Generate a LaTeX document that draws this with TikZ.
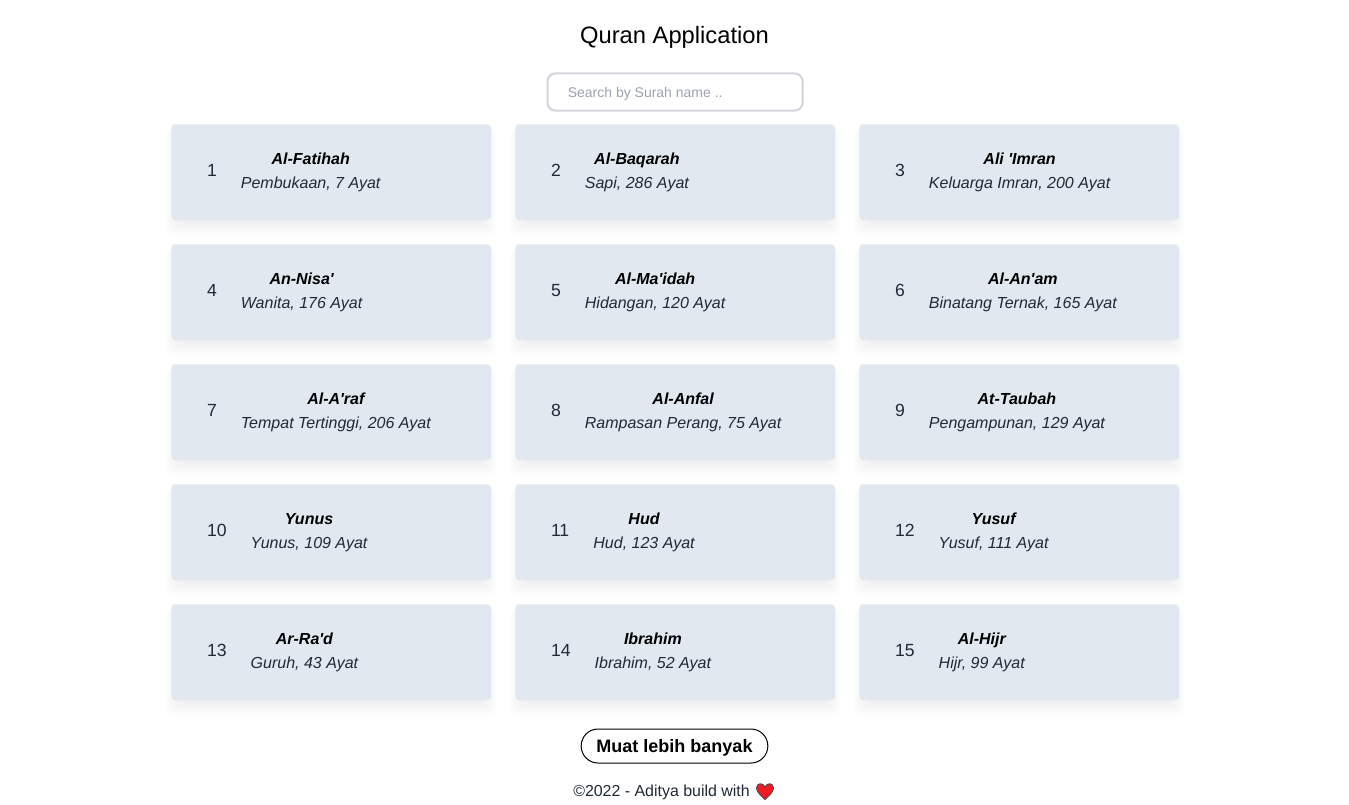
\documentclass[tikz,border=0pt]{standalone}
\usepackage{fontspec}
\usepackage{tikz}
\usetikzlibrary{positioning}
\newfontfamily\appfont{Liberation Sans}
\definecolor{cardfill}{HTML}{E2E8F0}
\definecolor{inkgray}{HTML}{1F2937}
\definecolor{searchline}{HTML}{D1D5DB}
\definecolor{hintgray}{HTML}{9CA3AF}
\definecolor{heartred}{HTML}{EE1C25}
\tikzset{
  cardbox/.style={fill=cardfill, rounded corners=3pt, minimum width=240pt, minimum height=72pt, inner sep=0pt, anchor=north west},
  numlabel/.style={inner sep=0pt, anchor=west, text=inkgray, font=\appfont\fontsize{13.2}{18}\selectfont},
  surahlabel/.style={inner sep=0pt, align=center, text=inkgray, font=\appfont\fontsize{12}{18}\selectfont},
}
\begin{document}
\begin{tikzpicture}[x=0.75pt, y=-0.75pt]
  \useasboundingbox (0,0) rectangle (1349,804);
  \node (title) at (674.5,37) {\appfont\fontsize{17.8}{24}\selectfont Quran Application};
  \node[draw=searchline, line width=1.5pt, rounded corners=6pt, minimum width=191.25pt, minimum height=28pt, inner sep=0pt] (search) at (675,92) {};
  \node[anchor=west, inner sep=0pt, text=hintgray, font=\appfont\fontsize{10.5}{14}\selectfont] (hint) at (567.5,93.5) {Search by Surah name ..};
  \foreach \n/\name/\sub [evaluate=\n as \cx using {171+344*mod(\n-1,3)}, evaluate=\n as \cy using {124+120*int((\n-1)/3)}] in {
    1/Al-Fatihah/{Pembukaan, 7 Ayat}, 2/Al-Baqarah/{Sapi, 286 Ayat}, 3/Ali 'Imran/{Keluarga Imran, 200 Ayat},
    4/An-Nisa'/{Wanita, 176 Ayat}, 5/Al-Ma'idah/{Hidangan, 120 Ayat}, 6/Al-An'am/{Binatang Ternak, 165 Ayat},
    7/Al-A'raf/{Tempat Tertinggi, 206 Ayat}, 8/Al-Anfal/{Rampasan Perang, 75 Ayat}, 9/At-Taubah/{Pengampunan, 129 Ayat},
    10/Yunus/{Yunus, 109 Ayat}, 11/Hud/{Hud, 123 Ayat}, 12/Yusuf/{Yusuf, 111 Ayat},
    13/Ar-Ra'd/{Guruh, 43 Ayat}, 14/Ibrahim/{Ibrahim, 52 Ayat}, 15/Al-Hijr/{Hijr, 99 Ayat}} {
    \foreach \s in {-7,-6,...,9}
      \fill[black, opacity=0.005, rounded corners=5pt] (\cx+3-\s,\cy+13-\s) rectangle (\cx+317+\s,\cy+103+\s);
    \node[cardbox] (card\n) at (\cx,\cy) {};
    \node[numlabel, xshift=26.8pt, yshift=1.5pt] (num\n) at (card\n.west) {\n};
    \node[surahlabel, right=17.7pt of num\n.east, yshift=-1.9pt] (surah\n) {{\bfseries\itshape\color{black}\name}\\ {\itshape\sub}};
  }
  \node[draw=black, line width=0.75pt, rounded corners=12.7pt, minimum width=140pt, minimum height=25.5pt, inner sep=0pt, text height=10pt, text depth=1pt, font=\appfont\bfseries\fontsize{13.5}{16}\selectfont] (more) at (674.5,746) {Muat lebih banyak};
  \node[anchor=west, inner sep=0pt, text=inkgray, font=\appfont\fontsize{11.95}{16}\selectfont] (footer) at (573,792) {©2022 - Aditya build with};
  \draw[fill=heartred, draw=black!75, line width=0.6pt] (765,799.5) .. controls (759,794) and (756.5,791) .. (756.5,788) .. controls (756.5,783) and (763,782) .. (765,787) .. controls (767,782) and (773.5,783) .. (773.5,788) .. controls (773.5,791) and (771,794) .. (765,799.5) -- cycle;
\end{tikzpicture}
\end{document}
